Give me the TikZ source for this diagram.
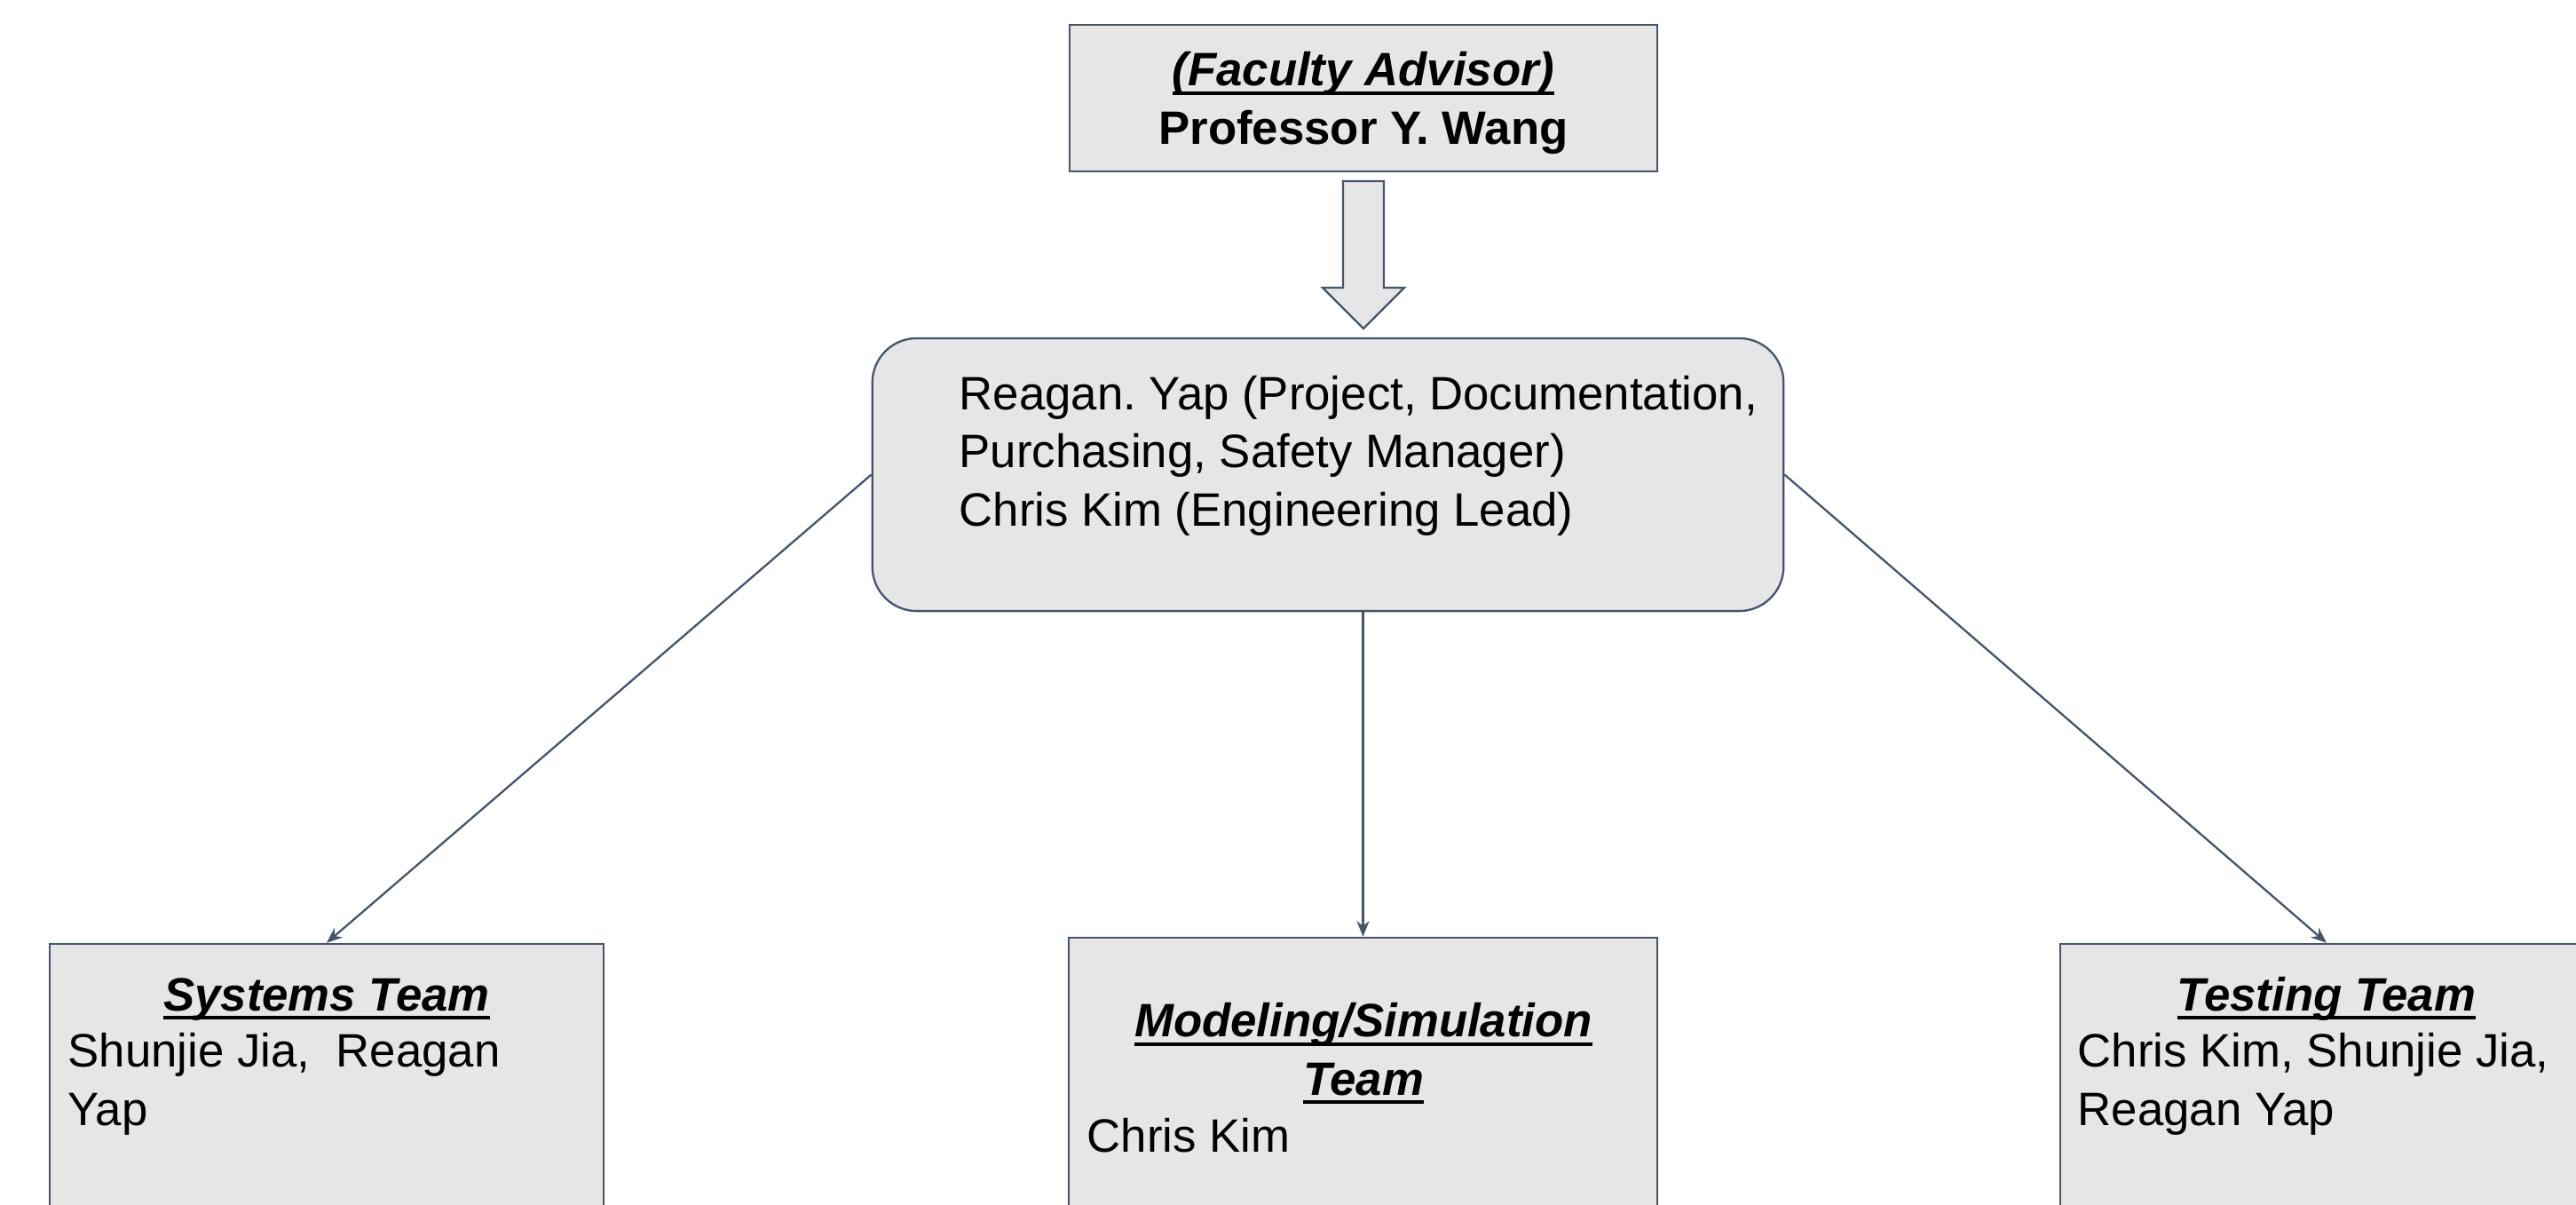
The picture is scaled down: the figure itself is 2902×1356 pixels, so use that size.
\documentclass[tikz,border=0pt]{standalone}
\usepackage{fontspec}
\setmainfont{Liberation Sans}
\usetikzlibrary{arrows.meta,positioning}
\frenchspacing

\definecolor{boxgray}{RGB}{230,230,230}
\definecolor{edgeblue}{RGB}{68,84,106}

% bold italic title with a flat underline
\newsavebox\ulinebox
\newcommand{\ulbi}[1]{\sbox\ulinebox{\textbf{\textit{#1}}}\rlap{\rule[-2.9pt]{\wd\ulinebox}{1.1pt}}\usebox\ulinebox}

\tikzset{
  box/.style={draw=edgeblue, fill=boxgray, line width=0.65pt, rectangle, inner sep=0pt},
  roundbox/.style={box, rounded corners=0.5cm},
  blockarrow/.style={draw=edgeblue, fill=boxgray, line width=0.65pt},
  txt/.style={inner sep=0pt, font=\fontsize{15}{18.5}\selectfont},
  link/.style={draw=edgeblue, line width=0.65pt, -{Stealth[length=5pt,width=4pt]}},
}

\begin{document}
\begin{tikzpicture}[x=0.01cm, y=-0.01cm]
		\useasboundingbox (0,0) rectangle (2902,1356);
		
		%%%%% advisor %%%%%
		\node[box, minimum width=6.62cm, minimum height=1.65cm] (advisor) at (1536,110.5) {};
		\node[txt, align=center, anchor=base] (advisortext) at (1536,162) {\ulbi{(Faculty Advisor)}\\\textbf{Professor Y. Wang}};
		
		\draw[blockarrow] (1513,204) -- (1559,204) -- (1559,324) -- (1582,324) -- (1536,370) -- (1490,324) -- (1513,324) -- cycle;
		
		%%%%% lead %%%%%
		\node[roundbox, minimum width=10.26cm, minimum height=3.07cm] (lead) at (1496,534.5) {};
		\node[txt, align=left, anchor=base west] (leadtext) at (1080,592) {Reagan. Yap (Project, Documentation,\\Purchasing, Safety Manager)\\Chris Kim (Engineering Lead)};
		
		%%%%% teams %%%%%
		\node[box, minimum width=6.24cm, minimum height=3.37cm] (systems) at (368,1231.5) {};
		\node[txt, anchor=base] (systemstitle) at (368,1138) {\ulbi{Systems Team}};
		\node[txt, align=left, anchor=base west] (systemstext) at (76,1267) {Shunjie Jia,\ \ Reagan\\Yap};
		
		\node[box, minimum width=6.63cm, minimum height=3.44cm] (modeling) at (1535.5,1228) {};
		\node[txt, align=center, anchor=base] (modelingtitle) at (1536,1233) {\ulbi{Modeling/Simulation}\\\ulbi{Team}};
		\node[txt, anchor=base west] (modelingtext) at (1224,1297) {Chris Kim};
		
		\node[box, minimum width=6.00cm, minimum height=3.37cm] (testing) at (2621,1231.5) {};
		\node[txt, anchor=base] (testingtitle) at (2621,1138) {\ulbi{Testing Team}};
		\node[txt, align=left, anchor=base west] (testingtext) at (2340,1267) {Chris Kim, Shunjie Jia,\\Reagan Yap};
		
		%%%%% links %%%%%
		\draw[link] (lead.west) -- (systems.north);
		\draw[link] (lead.south -| modeling.north) -- (modeling.north);
		\draw[link] (lead.east) -- (testing.north);
\end{tikzpicture}
\end{document}
